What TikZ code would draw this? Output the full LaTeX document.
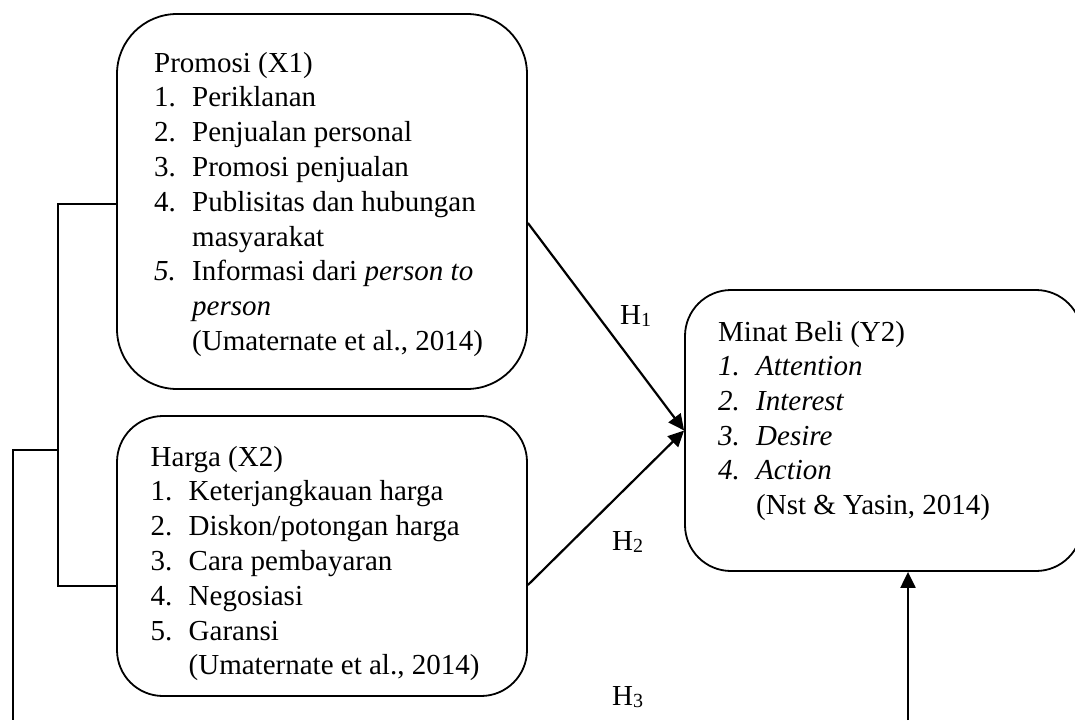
\documentclass[tikz,border=0pt]{standalone}
\usepackage{fontspec}
\setmainfont{Liberation Serif}
\usetikzlibrary{arrows.meta}
\newcommand{\numbx}[1]{\makebox[38pt][l]{#1}}
\begin{document}
\begin{tikzpicture}[x=1pt,y=-1pt,
  box/.style={draw, line width=1.8pt, inner sep=0pt},
  txt/.style={anchor=north west, inner sep=0pt, align=left, font=\fontsize{29}{34.8}\selectfont},
  hlab/.style={anchor=base west, inner sep=0pt, font=\fontsize{29}{34.8}\selectfont},
  con/.style={line width=1.8pt},
  arr/.style={line width=2.2pt, -{Triangle[length=16pt,width=15pt]}}
]
\useasboundingbox (0,0) rectangle (1075,720);
\clip (0,0) rectangle (1075,720);
% boxes
\node[box, rounded corners=60pt, minimum width=410pt, minimum height=375pt] (X1) at (322,201.5) {};
\node[box, rounded corners=46pt, minimum width=410pt, minimum height=280pt] (X2) at (322,556) {};
\node[box, rounded corners=46pt, minimum width=397pt, minimum height=281pt] (Y) at (883.5,430.5) {};
% texts
\node[txt] (tx1) at (154,47.6) {\strut Promosi (X1)\\
\numbx{1.}Periklanan\\
\numbx{2.}Penjualan personal\\
\numbx{3.}Promosi penjualan\\
\numbx{4.}Publisitas dan hubungan\\
\numbx{}masyarakat\\
\numbx{\textit{5.}}Informasi dari \textit{person to}\\
\numbx{}\textit{person}\\
\numbx{}(Umaternate et al., 2014)};
\node[txt] (tx2) at (150.5,441.6) {\strut Harga (X2)\\
\numbx{1.}Keterjangkauan harga\\
\numbx{2.}Diskon/potongan harga\\
\numbx{3.}Cara pembayaran\\
\numbx{4.}Negosiasi\\
\numbx{5.}Garansi\\
\numbx{}(Umaternate et al., 2014)};
\node[txt, font=\fontsize{29}{34.6}\selectfont] (ty) at (718,316.8) {\strut Minat Beli (Y2)\\
\numbx{\textit{1.}}\textit{Attention}\\
\numbx{\textit{2.}}\textit{Interest}\\
\numbx{\textit{3.}}\textit{Desire}\\
\numbx{\textit{4.}}\textit{Action}\\
\numbx{}(Nst \& Yasin, 2014)};
% hypothesis labels
\node[hlab] (h1) at (620,324) {H\raisebox{-2pt}{\fontsize{20}{20}\selectfont 1}};
\node[hlab] (h2) at (612,550) {H\raisebox{-2pt}{\fontsize{20}{20}\selectfont 2}};
\node[hlab] (h3) at (612,705) {H\raisebox{-2pt}{\fontsize{20}{20}\selectfont 3}};
% connector end points on the boxes
\coordinate (x1e) at ([yshift=-21.5pt]X1.east);
\coordinate (x2e) at ([yshift=-29pt]X2.east);
\coordinate (x1w) at ([yshift=-2.5pt]X1.west);
\coordinate (x2w) at ([yshift=-30pt]X2.west);
% arrows
\draw[arr] (x1e) -- (Y.west);
\draw[arr] (x2e) -- (Y.west);
\coordinate (bot) at (908,720);
\draw[arr] (bot) -- (bot |- Y.south);
% left bracket
\coordinate (jx) at (58,0);
\coordinate (jy) at (58,450);
\coordinate (lb) at (13,720);
\draw[con] (x1w) -- (jx |- x1w) -- (jx |- x2w) -- (x2w);
\draw[con] (jy) -- (lb |- jy) -- (lb);
\end{tikzpicture}
\end{document}
